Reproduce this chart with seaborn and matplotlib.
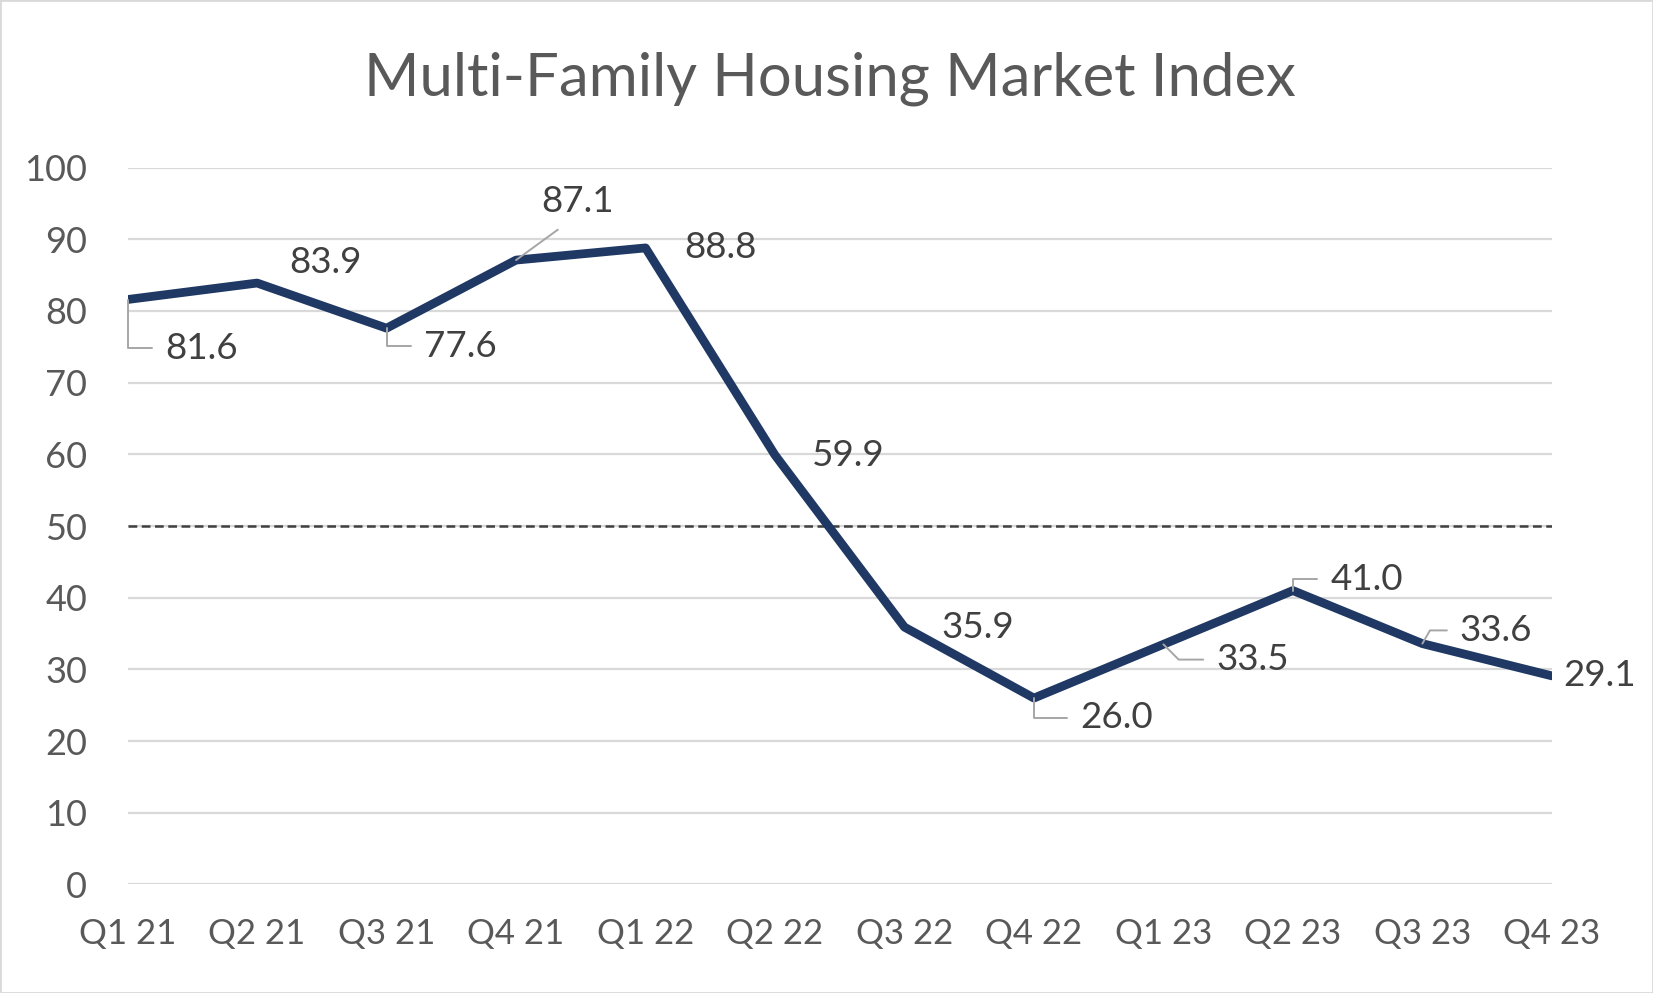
import numpy as np
import pandas as pd
import seaborn as sns
import matplotlib.pyplot as plt
from matplotlib.patches import Rectangle

# data
quarters = ['Q1 21', 'Q2 21', 'Q3 21', 'Q4 21', 'Q1 22', 'Q2 22',
            'Q3 22', 'Q4 22', 'Q1 23', 'Q2 23', 'Q3 23', 'Q4 23']
index_values = [81.6, 83.9, 77.6, 87.1, 88.8, 59.9, 35.9, 26.0, 33.5, 41.0, 33.6, 29.1]
threshold = 50

df = pd.DataFrame({'quarter': quarters, 'value': index_values})
df['pos'] = np.arange(len(df))

sns.set_style('white')
plt.rcParams['font.family'] = ['Lato', 'DejaVu Sans']

text_grey = '#595959'
navy = '#1F3864'

fig = plt.figure(figsize=(16.53, 9.93), dpi=100)
ax = fig.add_axes([0.0772, 0.1093, 0.9388 - 0.0772, 0.8312 - 0.1093])

ax.axhline(threshold, color='#404040', lw=1.8, ls=(0, (3.5, 1.8)), zorder=2)
sns.lineplot(data=df, x='pos', y='value', color=navy, lw=6.3, ax=ax, zorder=3)

ax.set_xlim(0, len(df) - 1)
ax.set_ylim(0, 100)
ax.set_yticks(range(0, 101, 10))
ax.set_xticks(df['pos'])
ax.set_xticklabels(quarters)
ax.set_xlabel('')
ax.set_ylabel('')
ax.yaxis.grid(True, color='#D9D9D9', lw=1.6)
ax.set_axisbelow(True)
for s in ax.spines.values():
    s.set_visible(False)
ax.tick_params(axis='y', length=0, pad=29, labelsize=26, labelcolor=text_grey)
ax.tick_params(axis='x', length=0, pad=24, labelsize=25, labelcolor=text_grey)

# label placement: (dx, dy in points, ha, leader style)
label_layout = [
    (27, -35, 'left', 'angle,angleA=0,angleB=90,rad=0'),
    (49, 15, 'center', None),
    (27, -13, 'left', 'angle,angleA=0,angleB=90,rad=0'),
    (44, 42, 'center', 'arc3'),
    (54, 0, 'center', None),
    (53, 0, 'center', None),
    (53, 0, 'center', None),
    (33, -14, 'left', 'angle,angleA=0,angleB=90,rad=0'),
    (38, -11, 'left', 'angle,angleA=0,angleB=-45,rad=0'),
    (27, 8, 'left', 'angle,angleA=0,angleB=90,rad=0'),
    (27, 9.5, 'left', 'angle,angleA=0,angleB=60,rad=0'),
    (8, 0, 'left', None),
]

for (x, v), (dx, dy, ha, conn) in zip(zip(df['pos'], df['value']), label_layout):
    kw = {}
    if conn is not None:
        if conn == 'arc3':
            kw['arrowprops'] = dict(arrowstyle='-', color='#A6A6A6', lw=1.4,
                                    connectionstyle=conn, relpos=(0.45, 0),
                                    shrinkA=10, shrinkB=0)
        else:
            kw['arrowprops'] = dict(arrowstyle='-', color='#A6A6A6', lw=1.4,
                                    connectionstyle=conn, relpos=(0, 0.5),
                                    shrinkA=7, shrinkB=0)
    ax.annotate(f'{v:.1f}', xy=(x, v), xytext=(dx, dy), textcoords='offset points',
                ha=ha, va='center', fontsize=26.5, color='#404040', zorder=4, **kw)

fig.text(0.502, 0.921, 'Multi-Family Housing Market Index', ha='center', va='center',
         fontsize=43, color=text_grey)

fig.patches.append(Rectangle((0, 0), 1, 1, transform=fig.transFigure, fill=False,
                             edgecolor='#D9D9D9', lw=2))

plt.savefig('out.png', dpi=100)
